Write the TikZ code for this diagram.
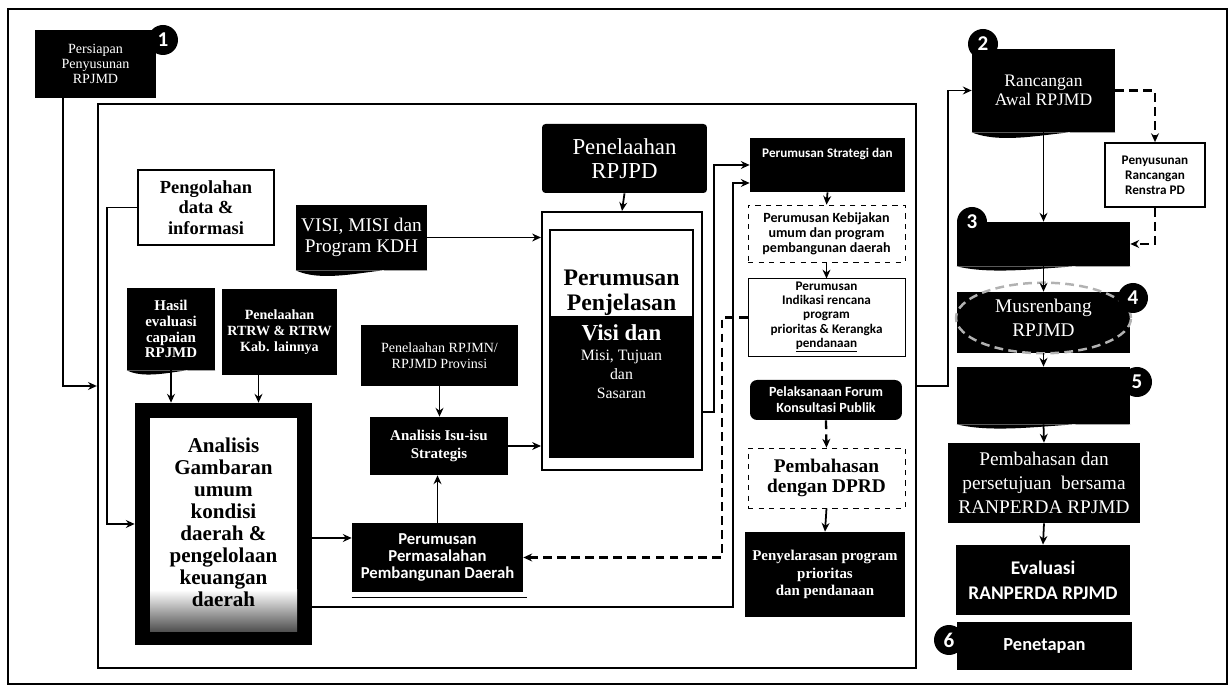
\documentclass[tikz,border=0pt]{standalone}
\usepackage{fontspec}
\setmainfont{Liberation Serif}
\setsansfont{Carlito}
\usetikzlibrary{arrows.meta,shapes.geometric}

\tikzset{
  darkbox/.style={fill=black, text=white, align=center, inner sep=2pt},
  whitebox/.style={draw, fill=white, align=center, inner sep=2pt},
  dashbox/.style={draw, dashed, fill=white, align=center, inner sep=2pt},
  badge/.style={circle, fill=black, text=white, minimum size=0.6cm, inner sep=0pt,
    font=\sffamily\bfseries\fontsize{12}{12}\selectfont},
  flow/.style={->, line width=1pt},
  dashflow/.style={->, line width=1.3pt, dash pattern=on 5pt off 3pt},
}

\begin{document}
\begin{tikzpicture}[x=0.02cm, y=-0.02cm, >={Stealth[length=5pt,width=4.5pt]}]
        \useasboundingbox (0,0) rectangle (1231,688);

        % Frames
        \draw[line width=1pt] (8,9) rectangle (1227,684);
        \node[draw, line width=1.4pt, minimum width=16.36cm, minimum height=11.28cm] (kerangka) at (507,386) {};

        % Left part
        \node[darkbox, minimum width=2.42cm, minimum height=1.36cm, font=\fontsize{8}{8.5}\selectfont] (persiapan) at (95.5,64) {Persiapan\\Penyusunan\\RPJMD};
        \node[badge] (no1) at (163,40) {1};

        \node[whitebox, line width=1pt, minimum width=2.72cm, minimum height=1.5cm, font=\bfseries\fontsize{10.5}{11.5}\selectfont] (pengolahan) at (206,207.5) {Pengolahan\\data \&\\informasi};

        \node[darkbox, minimum width=2.62cm, minimum height=1.3cm, font=\fontsize{11}{12}\selectfont] (visi) at (361.5,237.5) {VISI, MISI dan\\Program KDH};
        \fill (visi.south west) .. controls +(35,16) and +(-40,-8) .. (visi.south east) -- cycle;

        \node[darkbox, minimum width=1.76cm, minimum height=1.64cm, font=\bfseries\fontsize{8.5}{9}\selectfont] (hasil) at (171,329) {Hasil\\evaluasi\\capaian\\RPJMD};
        \fill (hasil.south west) .. controls +(25,12) and +(-25,-6) .. (hasil.south east) -- cycle;

        \node[darkbox, minimum width=2.3cm, minimum height=1.72cm, font=\bfseries\fontsize{8}{9}\selectfont] (rtrw) at (279.5,332) {Penelaahan\\RTRW \& RTRW\\Kab. lainnya};

        % Analisis gambaran umum
        \node[darkbox, minimum width=3.54cm, minimum height=4.84cm] (analisis) at (223.5,524) {};
        \node[fill=white, minimum width=2.94cm, minimum height=4.28cm] (analisisdalam) at (223.5,525) {};
        \shade[top color=white, bottom color=black!70] (150,590) rectangle (297,632);
        \node[align=center, font=\bfseries\fontsize{12}{12.5}\selectfont] (analisisteks) at (223.5,522) {Analisis\\Gambaran\\umum\\kondisi\\daerah \&\\pengelolaan\\keuangan\\daerah};

        \node[darkbox, minimum width=3.14cm, minimum height=1.22cm, font=\fontsize{8}{9}\selectfont] (rpjmn) at (439.5,355.5) {Penelaahan RPJMN/\\RPJMD Provinsi};
        \node[darkbox, minimum width=2.76cm, minimum height=1.16cm, font=\bfseries\fontsize{8.5}{10}\selectfont] (isu) at (439,446) {Analisis Isu-isu\\Strategis};
        \node[darkbox, minimum width=3.42cm, minimum height=1.38cm, font=\sffamily\bfseries\fontsize{9.5}{9.5}\selectfont] (masalah) at (437.5,557.5) {Perumusan\\Permasalahan\\Pembangunan Daerah};
        \draw[semithick] ([yshift=-0.1cm]masalah.south west) -- ([yshift=-0.1cm,xshift=0.08cm]masalah.south east);

        % Visi misi
        \node[darkbox, rounded corners=2pt, minimum width=3.3cm, minimum height=1.38cm, font=\fontsize{13}{14}\selectfont] (rpjpd) at (624.5,158.5) {Penelaahan\\RPJPD};
        \node[whitebox, line width=1.2pt, minimum width=3.2cm, minimum height=5.16cm] (penjelasan) at (622,341) {};
        \draw[thick] (550,230) rectangle (693,457);
        \fill (551,316) rectangle (692,456);
        \node[align=center, font=\bfseries\fontsize{13.5}{14.5}\selectfont] (penjelasanatas) at (621.5,293) {Perumusan\\Penjelasan};
        \node[align=center, text=white, font=\fontsize{9}{11}\selectfont] (penjelasanbawah) at (621.5,362) {{\bfseries\fontsize{13}{14}\selectfont Visi dan}\\Misi, Tujuan\\dan\\Sasaran};

        % Middle column
        \node[darkbox, minimum width=3.1cm, minimum height=1.08cm, font=\sffamily\bfseries\fontsize{7.5}{8}\selectfont] (strategi) at (827.5,165) {\raisebox{14pt}{Perumusan Strategi dan}};
        \node[dashbox, minimum width=3.14cm, minimum height=1.14cm, font=\sffamily\bfseries\fontsize{8}{8.5}\selectfont] (kebijakan) at (826.5,233.5) {Perumusan Kebijakan\\umum dan program\\pembangunan daerah};
        \node[whitebox, thin, minimum width=3.14cm, minimum height=1.42cm, font=\sffamily\bfseries\fontsize{7.5}{8}\selectfont] (indikasi) at (826.5,317.5) {Perumusan\\Indikasi rencana\\program\\prioritas \& Kerangka\\\underline{pendanaan}};
        \node[darkbox, rounded corners=4pt, minimum width=3.04cm, minimum height=0.8cm, font=\sffamily\bfseries\fontsize{8}{9}\selectfont] (forum) at (826,400) {Pelaksanaan Forum\\Konsultasi Publik};
        \node[dashbox, minimum width=3.14cm, minimum height=1.2cm, font=\bfseries\fontsize{11}{11.5}\selectfont] (dprd) at (826.5,478) {Pembahasan\\dengan DPRD};
        \node[darkbox, minimum width=3.2cm, minimum height=1.7cm, font=\bfseries\fontsize{8.5}{10}\selectfont] (selaras) at (825,574.5) {Penyelarasan program\\prioritas\\dan pendanaan};

        % Right column
        \node[darkbox, minimum width=2.86cm, minimum height=1.66cm, font=\fontsize{10}{11}\selectfont] (rancangan) at (1043.5,90.5) {Rancangan\\Awal RPJMD};
        \fill (rancangan.south west) .. controls +(40,16) and +(-40,-8) .. (rancangan.south east) -- cycle;
        \node[badge] (no2) at (983,44) {2};
        \node[whitebox, line width=1pt, minimum width=2cm, minimum height=1.28cm, font=\sffamily\bfseries\fontsize{7.5}{8.5}\selectfont] (renstra) at (1155,175) {Penyusunan\\Rancangan\\Renstra PD};
        \node[darkbox, minimum width=3.46cm, minimum height=0.88cm] (tahap3) at (1043.5,244) {};
        \fill (tahap3.south west) .. controls +(50,12) and +(-50,-6) .. (tahap3.south east) -- cycle;
        \node[badge] (no3) at (972,222) {3};
        \node[darkbox, minimum width=3.46cm, minimum height=1.22cm] (musrenbang) at (1043.5,322.5) {};
        \node[ellipse, draw=gray!60, dash pattern=on 5pt off 3pt, line width=1.4pt, minimum width=3.5cm, minimum height=1.4cm, text=white, align=center, font=\fontsize{11}{14}\selectfont] (musrenbangteks) at (1043.5,318) {Musrenbang\\RPJMD};
        \node[badge] (no4) at (1133,298) {4};
        \node[darkbox, minimum width=3.46cm, minimum height=1.14cm] (tahap5) at (1043.5,395.5) {};
        \fill (tahap5.south west) .. controls +(50,12) and +(-50,-6) .. (tahap5.south east) -- cycle;
        \node[badge] (no5) at (1137,382) {5};
        \node[darkbox, minimum width=3.84cm, minimum height=1.6cm, font=\fontsize{11}{13.5}\selectfont] (persetujuan) at (1044,483) {Pembahasan dan\\persetujuan\ \ bersama\\RANPERDA RPJMD};
        \node[darkbox, minimum width=3.48cm, minimum height=1.4cm, font=\sffamily\bfseries\fontsize{11}{14}\selectfont] (evaluasi) at (1043,580) {Evaluasi\\RANPERDA RPJMD};
        \node[darkbox, minimum width=3.5cm, minimum height=0.96cm, font=\sffamily\bfseries\fontsize{10.5}{12}\selectfont] (penetapan) at (1044.5,646) {Penetapan};
        \node[badge] (no6) at (949,640) {6};

        % Arrows
        \draw[flow] ([xshift=-0.65cm]persiapan.south) |- (kerangka.west);
        \draw[flow] (pengolahan.west) -- ++(-30,0) |- (analisis.west);
        \draw[flow] (hasil.south) -- (hasil.south |- analisis.north);
        \draw[flow] ([xshift=-0.42cm]rtrw.south) -- ([xshift=-0.42cm]rtrw.south |- analisis.north);
        \draw[flow] ([yshift=-0.28cm]analisis.east) -- ([yshift=-0.28cm]analisis.east -| masalah.west);
        \draw[flow] ([yshift=-1.66cm]analisis.east) -- ++(421,0) |- ([yshift=-0.36cm]strategi.west);
        \draw[flow] (masalah.north) -- (masalah.north |- isu.south);
        \draw[flow] (rpjmn.south) -- (rpjmn.south |- isu.north);
        \draw[flow, line width=0.6pt] (isu.east) -- (isu.east -| penjelasan.west);
        \draw[flow] (visi.east) -- (visi.east -| penjelasan.west);
        \draw[flow] (rpjpd.south) -- (penjelasan.north);
        \draw[flow] ([yshift=-1.42cm]penjelasan.east) -- ++(11,0) |- (strategi.west);
        \draw[flow] (strategi.south) -- (kebijakan.north);
        \draw[flow] (kebijakan.south) -- (indikasi.north);
        \draw[dashflow] (forum.south) -- (dprd.north);
        \draw[flow] (dprd.south) -- (selaras.north);
        \draw[dashflow] (indikasi.west) -- ++(-26,0) |- (masalah.east);
        \draw[flow] (kerangka.east) -- ++(31,0) |- (rancangan.west);
        \draw[dashflow] (rancangan.east) -| (renstra.north);
        \draw[dashflow] (renstra.south) |- (tahap3.east);
        \draw[flow] (rancangan.south) -- (tahap3.north);
        \draw[flow] (tahap3.south) -- (musrenbang.north);
        \draw[flow] (musrenbang.south) -- (tahap5.north);
        \draw[flow] (tahap5.south) -- (persetujuan.north);
        \draw[flow] (persetujuan.south) -- (evaluasi.north);
    \end{tikzpicture}
\end{document}
